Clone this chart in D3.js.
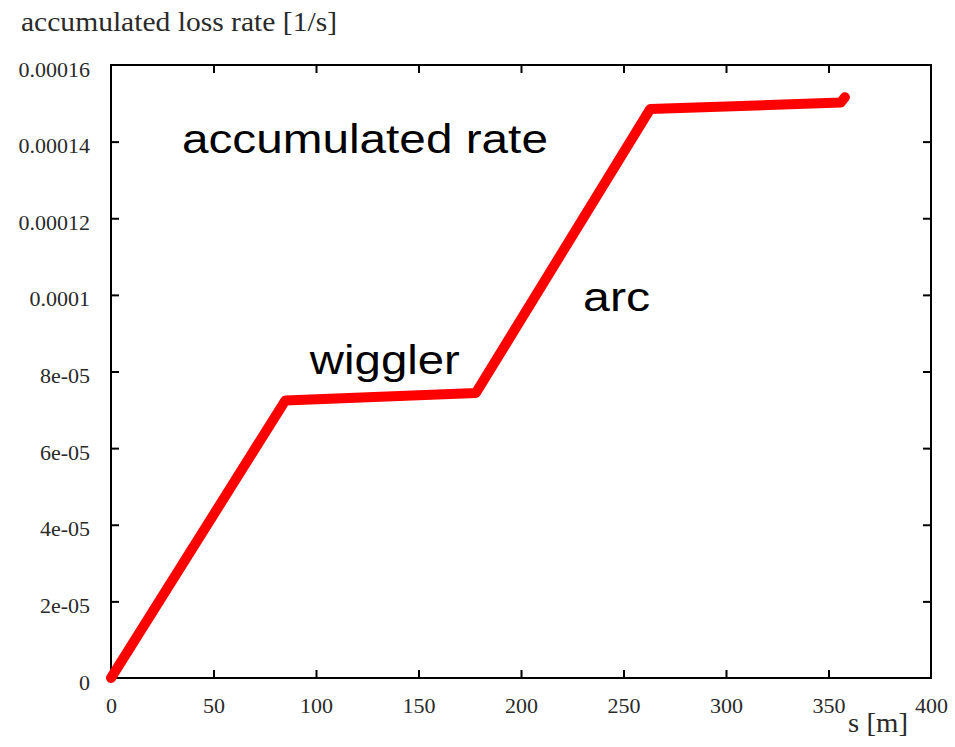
<!DOCTYPE html>
<html>
<head>
<meta charset="utf-8">
<script src="https://cdn.jsdelivr.net/npm/d3@7"></script>
<style>
  html, body { margin: 0; padding: 0; background: #fff; }
  svg { display: block; }
</style>
</head>
<body>
<svg id="chart" width="955" height="747"></svg>
<script>
// Accumulated loss rate along the ring position s
const sPositions = [0, 85, 178, 263, 356, 358];
const lossRates  = [0, 7.24e-5, 7.44e-5, 1.485e-4, 1.502e-4, 1.516e-4];

const xTickValues = [0, 50, 100, 150, 200, 250, 300, 350, 400];
const xTickLabels = ["0", "50", "100", "150", "200", "250", "300", "350", "400"];
const yTickValues = [0, 2e-5, 4e-5, 6e-5, 8e-5, 1e-4, 1.2e-4, 1.4e-4, 1.6e-4];
const yTickLabels = ["0", "2e-05", "4e-05", "6e-05", "8e-05", "0.0001", "0.00012", "0.00014", "0.00016"];

const annotations = [
  { text: "accumulated rate", s: 34.6, v: 1.371e-4, size: 40, len: 366 },
  { text: "wiggler", s: 97, v: 7.94e-5, size: 41, len: 150 },
  { text: "arc", s: 230.3, v: 9.59e-5, size: 41, len: 67 }
];

const data = sPositions.map((s, i) => ({ s, v: lossRates[i] }));

const svg = d3.select("#chart");
const plotLeft = 111, plotRight = 931, plotTop = 65, plotBottom = 678;

const x = d3.scaleLinear().domain([0, 400]).range([plotLeft, plotRight]);
const y = d3.scaleLinear().domain([0, 1.6e-4]).range([plotBottom, plotTop]);

const serif = "'Liberation Serif', 'Times New Roman', serif";
const sans = "'Liberation Sans', Arial, sans-serif";

// Frame
svg.append("rect")
  .attr("x", plotLeft).attr("y", plotTop)
  .attr("width", plotRight - plotLeft).attr("height", plotBottom - plotTop)
  .attr("fill", "none").attr("stroke", "#000").attr("stroke-width", 2);

// Inward ticks on all four sides
const tickLen = 8;
const xAxisBottom = d3.axisBottom(x).tickValues(xTickValues).tickSizeInner(-tickLen).tickSizeOuter(0)
  .tickFormat((d, i) => xTickLabels[i]).tickPadding(19);
const xAxisTop = d3.axisTop(x).tickValues(xTickValues.slice(1, -1)).tickSizeInner(-tickLen).tickSizeOuter(0).tickFormat("");
const yAxisLeft = d3.axisLeft(y).tickValues(yTickValues).tickSizeInner(-tickLen).tickSizeOuter(0)
  .tickFormat((d, i) => yTickLabels[i]).tickPadding(21);
const yAxisRight = d3.axisRight(y).tickValues(yTickValues.slice(1, -1)).tickSizeInner(-tickLen).tickSizeOuter(0).tickFormat("");

function styleAxis(g) {
  g.select(".domain").remove();
  g.selectAll(".tick line").attr("stroke", "#000").attr("stroke-width", 2);
  g.selectAll(".tick text").attr("fill", "#2a2a2a").attr("font-family", serif);
}

svg.append("g").attr("transform", `translate(0,${plotBottom})`).call(xAxisBottom).call(styleAxis)
  .selectAll(".tick text").attr("font-size", 22).attr("dy", "0.71em");
svg.append("g").attr("transform", `translate(0,${plotTop})`).call(xAxisTop).call(styleAxis);
svg.append("g").attr("transform", `translate(${plotLeft},0)`).call(yAxisLeft).call(styleAxis)
  .selectAll(".tick text").attr("font-size", 22).attr("dy", "0.5em");
svg.append("g").attr("transform", `translate(${plotRight},0)`).call(yAxisRight).call(styleAxis);

// The frame already covers the corner ticks
svg.selectAll(".tick").filter(d => d === 0 || d === 400 || d === 1.6e-4).select("line").remove();

// Loss rate curve
svg.append("path")
  .datum(data)
  .attr("fill", "none")
  .attr("stroke", "#ff0000")
  .attr("stroke-width", 10)
  .attr("stroke-linejoin", "round")
  .attr("stroke-linecap", "round")
  .attr("d", d3.line().x(d => x(d.s)).y(d => y(d.v)));

// Section labels
svg.selectAll("text.note")
  .data(annotations)
  .join("text")
  .attr("class", "note")
  .attr("x", d => x(d.s))
  .attr("y", d => y(d.v))
  .attr("font-family", sans)
  .attr("font-size", d => d.size)
  .attr("textLength", d => d.len)
  .attr("lengthAdjust", "spacingAndGlyphs")
  .attr("fill", "#000")
  .text(d => d.text);

// Axis titles
svg.append("text")
  .attr("x", 21).attr("y", 31)
  .attr("font-family", serif).attr("font-size", 27)
  .attr("fill", "#2a2a2a")
  .attr("textLength", 316).attr("lengthAdjust", "spacingAndGlyphs")
  .text("accumulated loss rate [1/s]");

svg.append("text")
  .attr("x", 848).attr("y", 732)
  .attr("font-family", serif).attr("font-size", 27)
  .attr("fill", "#2a2a2a")
  .attr("textLength", 60).attr("lengthAdjust", "spacingAndGlyphs")
  .text("s [m]");
</script>
</body>
</html>
